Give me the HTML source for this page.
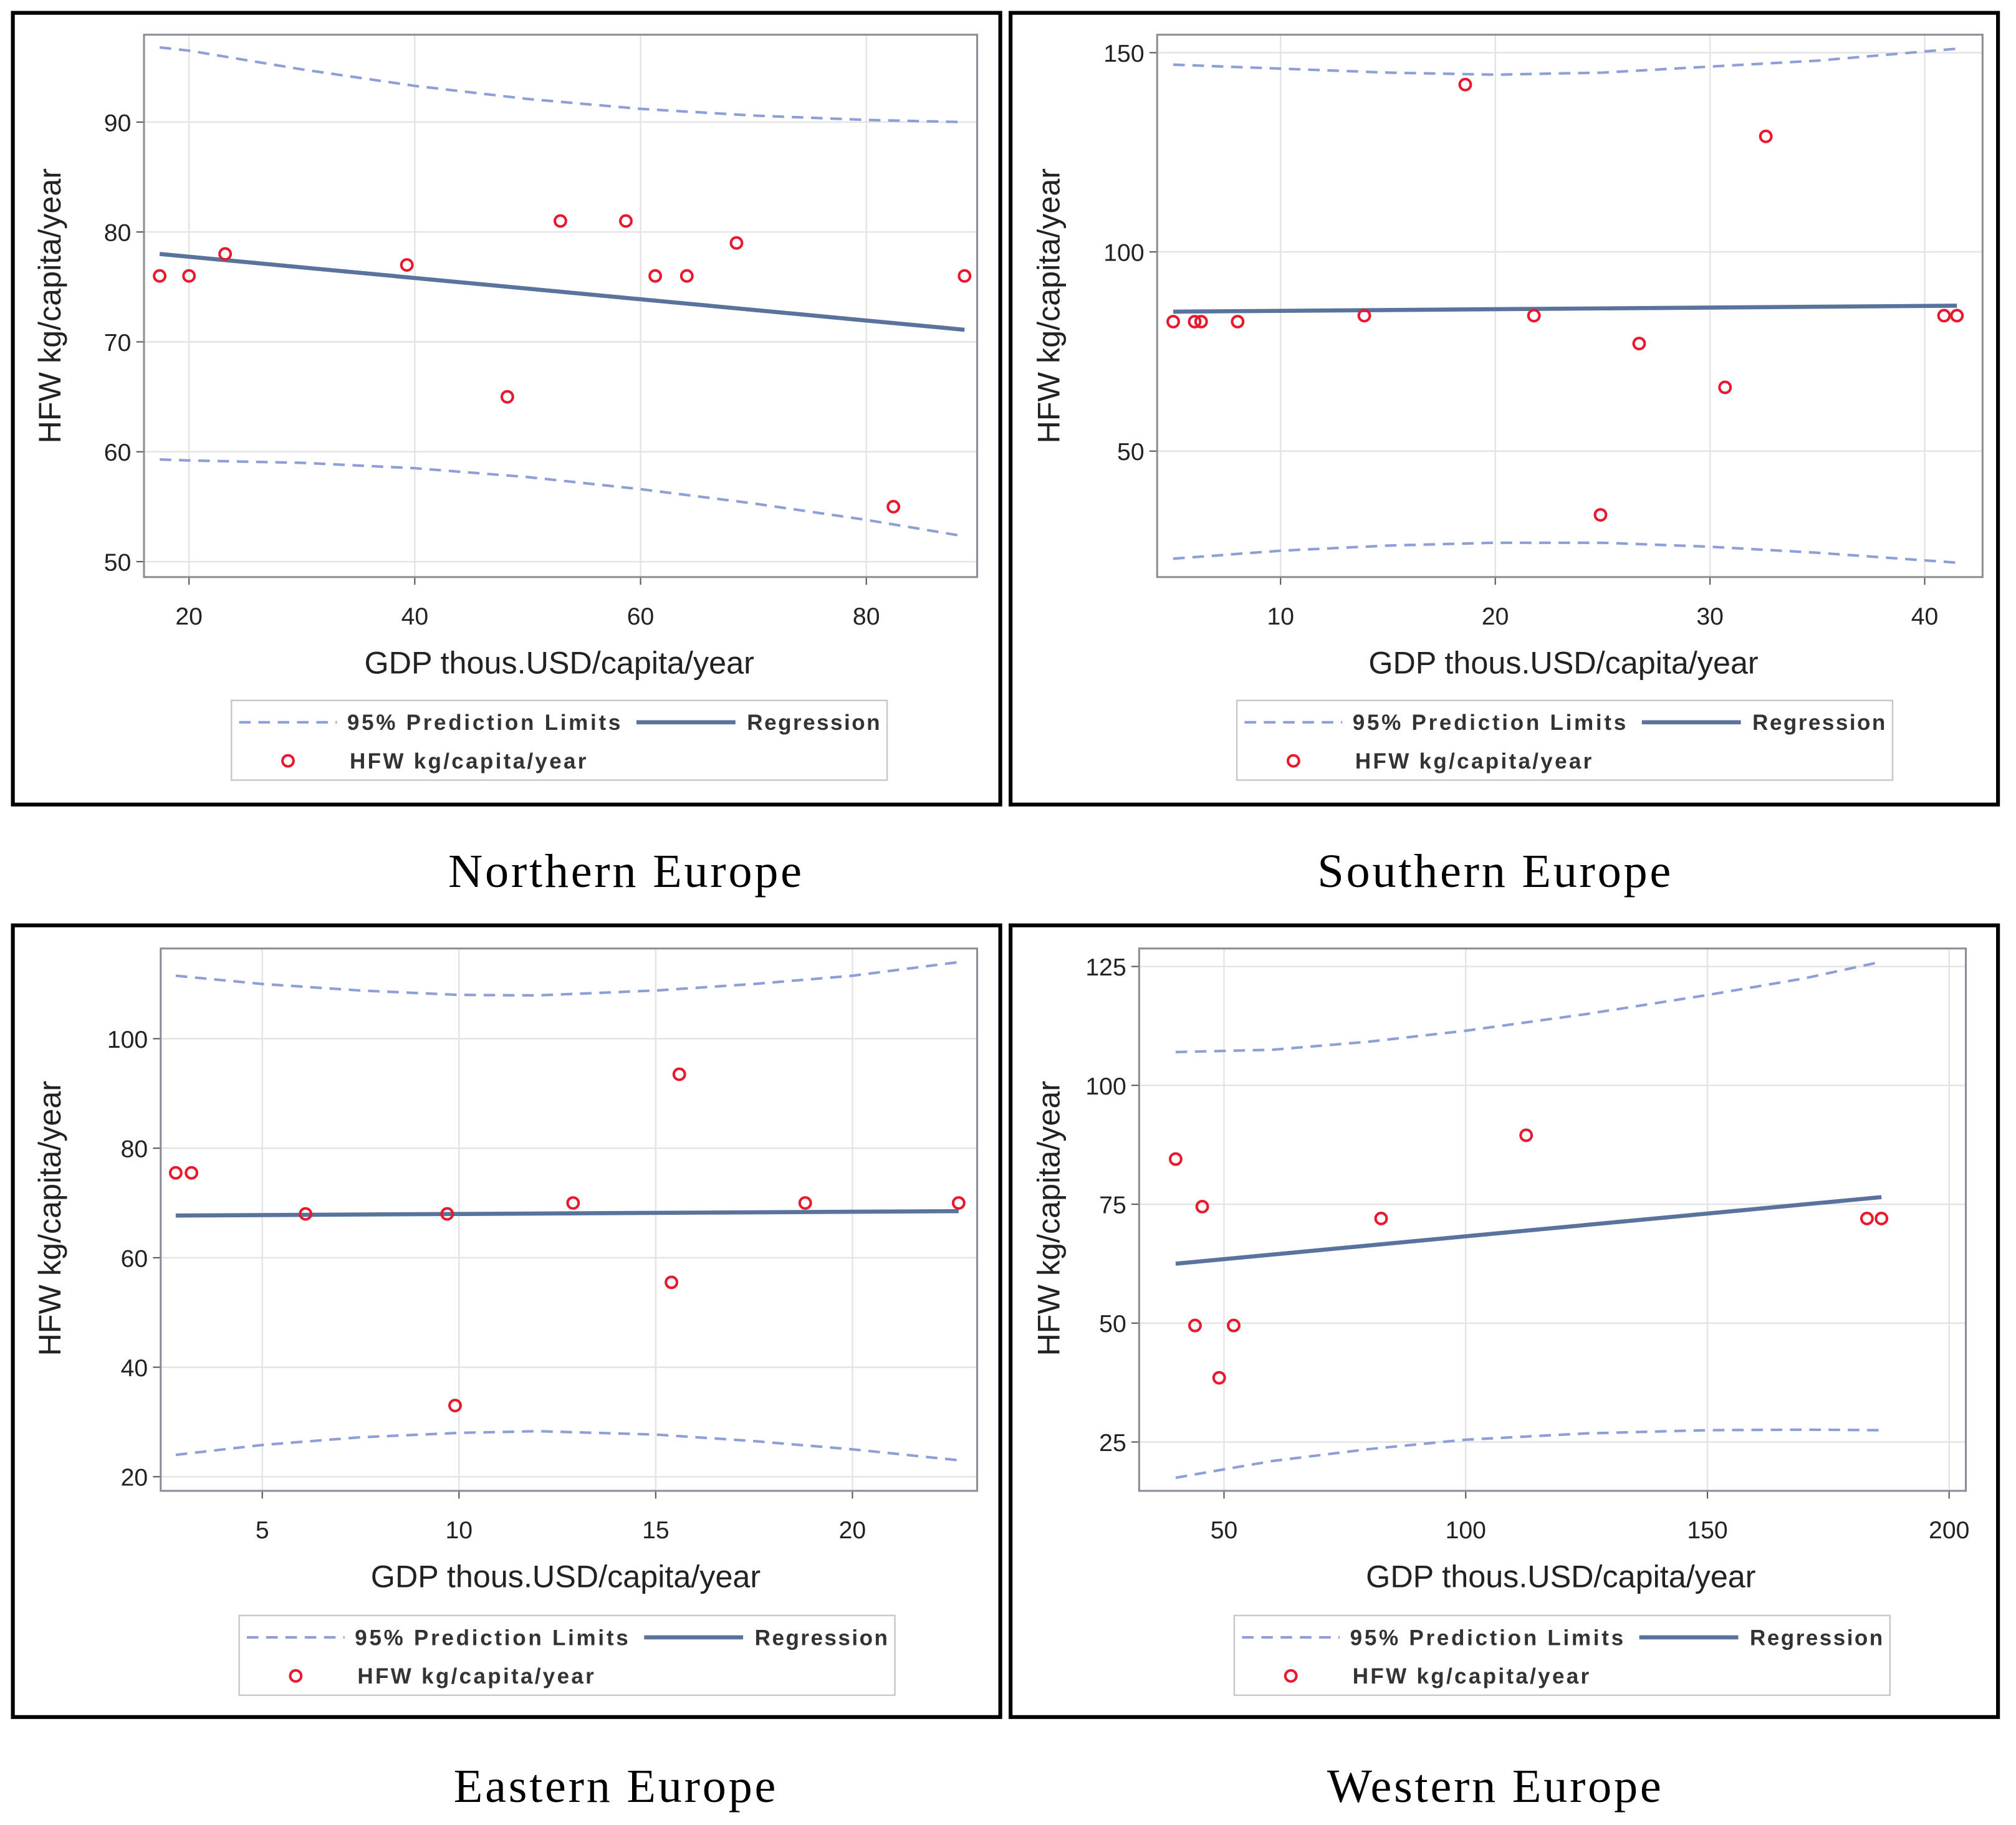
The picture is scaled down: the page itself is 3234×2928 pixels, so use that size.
<!DOCTYPE html>
<html><head><meta charset="utf-8">
<style>
html,body{margin:0;padding:0;background:#fff;}
svg{display:block;}
</style></head>
<body>
<svg id="fig" width="3234" height="2928" viewBox="0 0 1568 1420" preserveAspectRatio="none" xmlns="http://www.w3.org/2000/svg" font-family="Liberation Sans, sans-serif"></svg>
<script>
// ---- Northern Europe data ----
const nX = [17.4,20,23.2,39.3,48.2,52.9,58.7,61.3,64.1,68.5,82.4,88.7];
const nY = [76,76,78,77,65,81,81,76,76,79,55,76];
const nRegX = [17.4,88.7];
const nRegY = [78,71.1];
const nLimX = [17.4,20,30,40,50,60,70,80,88.7];
const nUpper = [96.8,96.5,94.8,93.3,92.1,91.2,90.6,90.2,90.0];
const nLower = [59.3,59.2,59.0,58.5,57.7,56.6,55.3,53.8,52.3];
const nXTicks = [20,40,60,80];
const nYTicks = [50,60,70,80,90];
// ---- Southern Europe data ----
const sX = [5.0,6.0,6.3,8.0,13.9,18.6,21.8,24.9,26.7,30.7,32.6,40.9,41.5];
const sY = [82.5,82.5,82.5,82.5,84,142,84,34,77,66,129,84,84];
const sRegX = [5,41.5];
const sRegY = [85,86.5];
const sLimX = [5,10,15,20,25,30,35,41.5];
const sUpper = [147,146,145,144.5,145,146.5,148,151];
const sLower = [23,25,26.3,27,27,26,24.5,22];
const sXTicks = [10,20,30,40];
const sYTicks = [50,100,150];
// ---- Eastern Europe data ----
const eX = [2.8,3.2,6.1,9.7,9.9,12.9,15.4,15.6,18.8,22.7];
const eY = [75.5,75.5,68,68,33,70,55.5,93.5,70,70];
const eRegX = [2.8,22.7];
const eRegY = [67.7,68.5];
const eLimX = [2.8,5,7.5,10,12,15,17.5,20,22.7];
const eUpper = [111.5,110,108.8,108,107.9,108.8,110,111.5,114];
const eLower = [24,25.8,27.2,28,28.3,27.7,26.5,25,23];
const eXTicks = [5,10,15,20];
const eYTicks = [20,40,60,80,100];
// ---- Western Europe data ----
const wX = [40,44,45.5,49,52,82.5,112.5,183,186];
const wY = [84.5,49.5,74.5,38.5,49.5,72,89.5,72,72];
const wRegX = [40,186];
const wRegY = [62.5,76.5];
const wLimX = [40,60,80,100,125,150,170,186];
const wUpper = [107,107.5,109.2,111.5,115,119,122.5,126];
const wLower = [17.5,21,23.5,25.5,26.8,27.5,27.6,27.5];
const wXTicks = [50,100,150,200];
const wYTicks = [25,50,75,100,125];

const NS = "http://www.w3.org/2000/svg";
const svg = document.getElementById('fig');
function mk(tag, attrs, parent){
  const e = document.createElementNS(NS, tag);
  for (const k in attrs) e.setAttribute(k, attrs[k]);
  (parent||svg).appendChild(e);
  return e;
}
function txt(s, attrs, parent){ const t = mk('text', attrs, parent); t.textContent = s; return t; }

function panel(cfg){
  const g = mk('g', {});
  
  
  const f = cfg.frame, p = cfg.plot;
  const fr = mk('rect', {x:f[0], y:f[1], width:f[2]-f[0], height:f[3]-f[1], fill:'#fff', stroke:'#000', 'stroke-width':3}, g);
  
  
  const sx = v => cfg.xa[1] + (v - cfg.xa[0]) * cfg.xa[2];
  const sy = v => cfg.ya[1] - (v - cfg.ya[0]) * cfg.ya[2];
  cfg.xTicks.forEach(t => {
    const l = mk('line', {x1:sx(t), x2:sx(t), y1:p[1], y2:p[3], stroke:'#e4e4e4', 'stroke-width':1.2}, g);
    
    
    mk('line', {x1:sx(t), x2:sx(t), y1:p[3], y2:p[3]+6, stroke:'#555', 'stroke-width':1}, g);
    const tl = txt(String(t), {x:sx(t), y:p[3]+37, 'text-anchor':'middle', 'font-size':19, fill:'#222'}, g);
    
    
  });
  cfg.yTicks.forEach(t => {
    const l = mk('line', {x1:p[0], x2:p[2], y1:sy(t), y2:sy(t), stroke:'#e4e4e4', 'stroke-width':1.2}, g);
    
    
    mk('line', {x1:p[0]-6, x2:p[0], y1:sy(t), y2:sy(t), stroke:'#555', 'stroke-width':1}, g);
    const tl = txt(String(t), {x:p[0]-10, y:sy(t)+7, 'text-anchor':'end', 'font-size':19, fill:'#222'}, g);
    
    
  });
  const pa = mk('rect', {x:p[0], y:p[1], width:p[2]-p[0], height:p[3]-p[1], fill:'none', stroke:'#8a8f96', 'stroke-width':1.5}, g);
  
  
  const lim = (ys, nm) => {
    const d = cfg.limX.map((x,i)=>(i?'L':'M')+sx(x).toFixed(1)+','+sy(ys[i]).toFixed(1)).join(' ');
    const pth = mk('path', {d:d, fill:'none', stroke:'#8e9fd8', 'stroke-width':2, 'stroke-dasharray':'9,6'}, g);
    
    
  };
  lim(cfg.upper, 'upper-prediction-limit');
  lim(cfg.lower, 'lower-prediction-limit');
  const reg = mk('line', {x1:sx(cfg.regX[0]), y1:sy(cfg.regY[0]), x2:sx(cfg.regX[1]), y2:sy(cfg.regY[1]), stroke:'#5a739c', 'stroke-width':3.2}, g);
  
  
  cfg.px.forEach((x,i) => {
    const c = mk('circle', {cx:sx(x), cy:sy(cfg.py[i]), r:4.3, fill:'none', stroke:'#e8192c', 'stroke-width':2}, g);
    
    
  });
  const xt = txt('GDP thous.USD/capita/year', {x:cfg.xlab[0], y:cfg.xlab[1], 'text-anchor':'middle', 'font-size':24.4, fill:'#222'}, g);
  
  
  const yt = txt('HFW kg/capita/year', {x:0, y:0, 'text-anchor':'middle', 'font-size':24.4, fill:'#222', transform:`translate(${cfg.ylab[0]},${cfg.ylab[1]}) rotate(-90)`}, g);
  
  
  const L = cfg.leg;
  const lg = mk('g', {}, g);
  
  
  mk('rect', {x:L[0], y:L[1], width:510, height:62, fill:'#fff', stroke:'#c8c8c8', 'stroke-width':1.2}, lg);
  mk('line', {x1:L[0]+6, x2:L[0]+82, y1:L[1]+17, y2:L[1]+17, stroke:'#8e9fd8', 'stroke-width':2, 'stroke-dasharray':'9,6'}, lg);
  const t1 = txt('95% Prediction Limits', {x:L[0]+90, y:L[1]+23, 'font-size':17, 'font-weight':'bold', 'letter-spacing':'1.8', fill:'#333'}, lg);
  
  
  mk('line', {x1:L[0]+315, x2:L[0]+392, y1:L[1]+17, y2:L[1]+17, stroke:'#5a739c', 'stroke-width':3.2}, lg);
  const t2 = txt('Regression', {x:L[0]+401, y:L[1]+23, 'font-size':17, 'font-weight':'bold', 'letter-spacing':'1.2', fill:'#333'}, lg);
  
  
  mk('circle', {cx:L[0]+44, cy:L[1]+47, r:4.3, fill:'none', stroke:'#e8192c', 'stroke-width':2}, lg);
  const t3 = txt('HFW kg/capita/year', {x:L[0]+92, y:L[1]+53, 'font-size':17, 'font-weight':'bold', 'letter-spacing':'1.6', fill:'#333'}, lg);
  
  
  const cp = txt(cfg.caption, {x:cfg.cap[0], y:cfg.cap[1], 'text-anchor':'middle', 'font-size':37, 'letter-spacing':'1.8', fill:'#000', style:'font-family:"Liberation Serif", serif'});
  
  
}

panel({name:'northern-europe-panel', frame:[10,10,778,626], plot:[112,27,760,449],
  xa:[20,147,8.78], ya:[50,437,8.55], xTicks:nXTicks, yTicks:nYTicks,
  px:nX, py:nY, regX:nRegX, regY:nRegY, limX:nLimX, upper:nUpper, lower:nLower,
  xlab:[435,524], ylab:[47,238], leg:[180,545], caption:'Northern Europe', cap:[487,690]});
panel({name:'southern-europe-panel', frame:[786,10,1554,626], plot:[900,27,1542,449],
  xa:[10,996,16.7], ya:[50,351,3.1], xTicks:sXTicks, yTicks:sYTicks,
  px:sX, py:sY, regX:sRegX, regY:sRegY, limX:sLimX, upper:sUpper, lower:sLower,
  xlab:[1216,524], ylab:[824,238], leg:[962,545], caption:'Southern Europe', cap:[1163,690]});
panel({name:'eastern-europe-panel', frame:[10,720,778,1336], plot:[125,738,760,1160],
  xa:[5,204,30.6], ya:[20,1149,4.26], xTicks:eXTicks, yTicks:eYTicks,
  px:eX, py:eY, regX:eRegX, regY:eRegY, limX:eLimX, upper:eUpper, lower:eLower,
  xlab:[440,1235], ylab:[47,948], leg:[186,1257], caption:'Eastern Europe', cap:[479,1402]});
panel({name:'western-europe-panel', frame:[786,720,1554,1336], plot:[886,738,1529,1160],
  xa:[50,952,3.76], ya:[25,1122,3.7], xTicks:wXTicks, yTicks:wYTicks,
  px:wX, py:wY, regX:wRegX, regY:wRegY, limX:wLimX, upper:wUpper, lower:wLower,
  xlab:[1214,1235], ylab:[824,948], leg:[960,1257], caption:'Western Europe', cap:[1163,1402]});
</script>
</body></html>
